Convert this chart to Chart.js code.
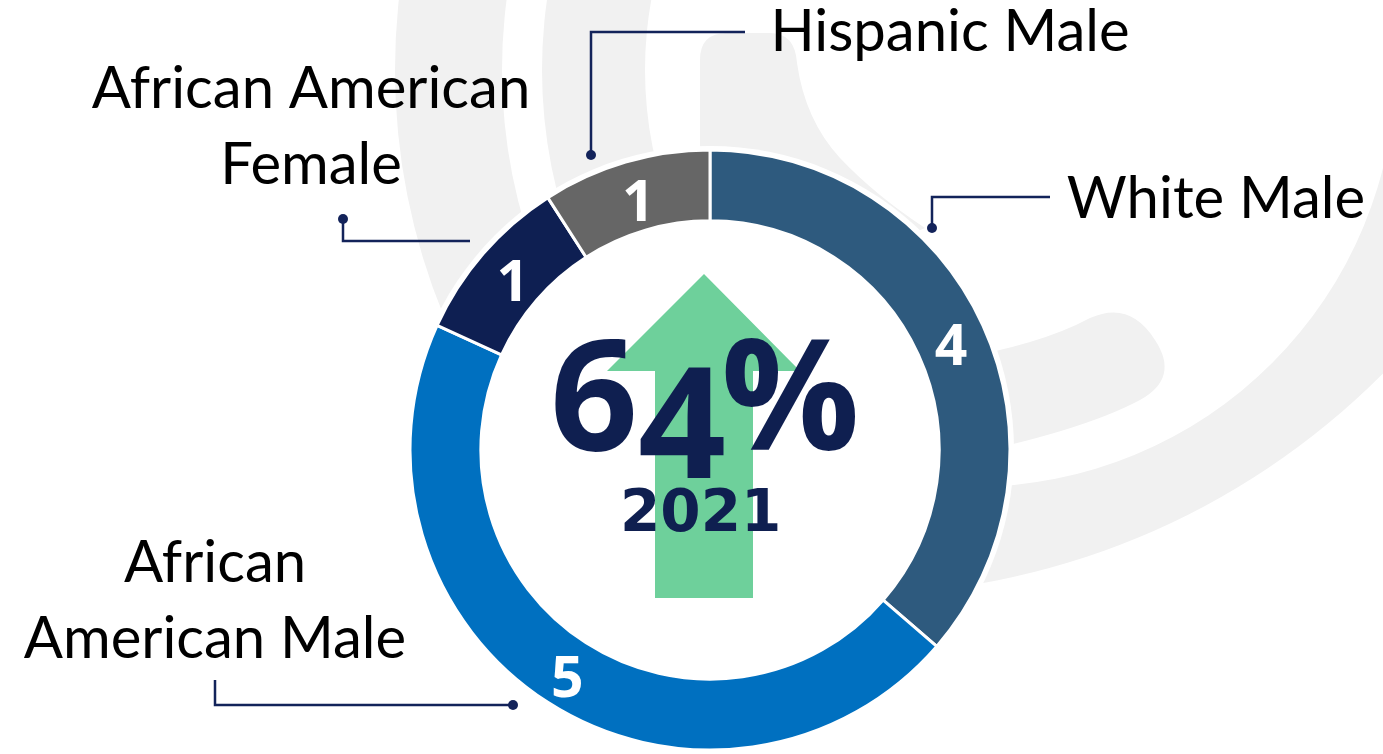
<!DOCTYPE html>
<html lang="en">
<head>
<meta charset="UTF-8">
<title>2021 breakdown</title>
<script src="https://cdn.jsdelivr.net/npm/chart.js"></script>
<style>
  html, body { margin: 0; padding: 0; background: #fff; }
</style>
</head>
<body>
<canvas id="donut" width="1383" height="754"></canvas>
<script>
// data
const categories = ['White Male', 'African American Male', 'African American Female', 'Hispanic Male'];
const counts = [4, 5, 1, 1];
const labelLines = [['White Male'], ['African', 'American Male'], ['African American', 'Female'], ['Hispanic Male']];
const centerValue = '64%';
const centerYear = '2021';

const sliceColors = ['#2E5A7E', '#0070C0', '#0E1F52', '#666666'];
const navy = '#0F1F50';

// leader lines and label anchors, as offsets from the doughnut centre
const leaders = [
  { pts: [[222, -222], [222, -253], [340, -253]], dot: 0, text: [506, -232] },
  { pts: [[-197, 255], [-495, 255], [-495, 230]], dot: 0, text: [-495, 132] },
  { pts: [[-367, -231], [-367, -209], [-240, -209]], dot: 0, text: [-399, -342] },
  { pts: [[-119, -295], [-119, -418], [35, -418]], dot: 0, text: [240, -399] }
];

function drawWatermark(ctx) {
  ctx.save();
  ctx.fillStyle = '#F1F1F1';
  // two bands on the left
  ctx.save();
  ctx.beginPath();
  ctx.rect(0, 0, 700, 754);
  ctx.clip();
  [[538, 645], [395, 498]].forEach(([r1, r2]) => {
    ctx.beginPath();
    ctx.arc(1040, 70, r2, 0, Math.PI * 2);
    ctx.arc(1040, 70, r1, 0, Math.PI * 2, true);
    ctx.fill();
  });
  ctx.restore();
  // big crescent on the right
  ctx.save();
  ctx.beginPath();
  ctx.rect(900, 0, 483, 754);
  ctx.clip();
  ctx.beginPath();
  ctx.arc(850, -157, 752, 0, Math.PI * 2);
  ctx.arc(973, 64, 423, 0, Math.PI * 2);
  ctx.fill('evenodd');
  ctx.restore();
  // hook at the top
  ctx.beginPath();
  ctx.moveTo(700, 220);
  ctx.lineTo(700, 60);
  ctx.quadraticCurveTo(700, 33, 727, 33);
  ctx.lineTo(770, 33);
  ctx.quadraticCurveTo(795, 33, 797, 63);
  ctx.quadraticCurveTo(805, 120, 840, 158);
  ctx.quadraticCurveTo(875, 195, 925, 228);
  ctx.lineTo(760, 300);
  ctx.closePath();
  ctx.fill();
  // tongue on the right
  ctx.beginPath();
  ctx.moveTo(950, 360);
  ctx.quadraticCurveTo(1040, 345, 1090, 318);
  ctx.quadraticCurveTo(1130, 300, 1155, 340);
  ctx.quadraticCurveTo(1180, 378, 1140, 400);
  ctx.quadraticCurveTo(1080, 432, 950, 458);
  ctx.closePath();
  ctx.fill();
  ctx.restore();
}

function drawInk(ctx, text, left, bottom) {
  const m = ctx.measureText(text);
  ctx.fillText(text, left + m.actualBoundingBoxLeft, bottom - m.actualBoundingBoxDescent);
}

const decorPlugin = {
  id: 'decor',
  beforeDatasetsDraw(chart) {
    const ctx = chart.ctx;
    const arc = chart.getDatasetMeta(0).data[0];
    drawWatermark(ctx);
    ctx.save();
    ctx.fillStyle = '#ffffff';
    ctx.beginPath();
    ctx.arc(arc.x, arc.y, arc.outerRadius + 4, 0, Math.PI * 2);
    ctx.fill();
    ctx.restore();
  },
  afterDatasetsDraw(chart) {
    const ctx = chart.ctx;
    const meta = chart.getDatasetMeta(0);
    const cx = meta.data[0].x, cy = meta.data[0].y;
    ctx.save();

    // green arrow
    ctx.fillStyle = '#6ED09B';
    ctx.beginPath();
    ctx.moveTo(cx - 6, cy - 176);
    ctx.lineTo(cx + 90, cy - 79);
    ctx.lineTo(cx + 43, cy - 79);
    ctx.lineTo(cx + 43, cy + 148);
    ctx.lineTo(cx - 55, cy + 148);
    ctx.lineTo(cx - 55, cy - 79);
    ctx.lineTo(cx - 103, cy - 79);
    ctx.closePath();
    ctx.fill();

    // centre figure
    ctx.fillStyle = navy;
    ctx.textAlign = 'left';
    ctx.textBaseline = 'alphabetic';
    ctx.font = 'bold 154px "Open Sans"';
    const chars = centerValue.split('');
    drawInk(ctx, chars[0], cx - 155, cy + 2);
    drawInk(ctx, chars[1], cx - 70, cy + 28);
    drawInk(ctx, chars[2], cx + 15, cy + 1);
    ctx.font = 'bold 58px "DejaVu Sans"';
    const yw = ctx.measureText(centerYear);
    drawInk(ctx, centerYear, cx - 9 - (yw.actualBoundingBoxRight + yw.actualBoundingBoxLeft) / 2, cy + 82);

    // values on the slices
    ctx.fillStyle = '#ffffff';
    ctx.font = 'bold 57px "Open Sans"';
    meta.data.forEach((el, i) => {
      const p = el.tooltipPosition();
      const t = String(counts[i]);
      const m = ctx.measureText(t);
      const w = m.actualBoundingBoxRight + m.actualBoundingBoxLeft;
      const h = m.actualBoundingBoxAscent + m.actualBoundingBoxDescent;
      drawInk(ctx, t, p.x - w / 2, p.y + h / 2 + 4);
    });

    // leader lines and category names
    ctx.strokeStyle = '#13235A';
    ctx.lineWidth = 2.5;
    leaders.forEach((ld, i) => {
      ctx.beginPath();
      ld.pts.forEach(([dx, dy], k) => {
        if (k === 0) ctx.moveTo(cx + dx, cy + dy); else ctx.lineTo(cx + dx, cy + dy);
      });
      ctx.stroke();
      const d = ld.pts[ld.dot];
      ctx.fillStyle = '#13235A';
      ctx.beginPath();
      ctx.arc(cx + d[0], cy + d[1], 5, 0, Math.PI * 2);
      ctx.fill();

      ctx.fillStyle = '#000000';
      ctx.font = '58px Lato';
      ctx.textAlign = 'center';
      labelLines[i].forEach((line, k) => {
        ctx.fillText(line, cx + ld.text[0], cy + ld.text[1] + k * 76);
      });
      ctx.textAlign = 'left';
    });
    ctx.restore();
  }
};

new Chart(document.getElementById('donut'), {
  type: 'doughnut',
  data: {
    labels: categories,
    datasets: [{
      data: counts,
      backgroundColor: sliceColors,
      borderColor: '#ffffff',
      borderWidth: 3,
      hoverOffset: 0
    }]
  },
  options: {
    responsive: false,
    animation: false,
    events: [],
    radius: 300,
    cutout: 228,
    rotation: 0,
    layout: { padding: { left: 410, right: 373, top: 150, bottom: 4 } },
    plugins: {
      legend: { display: false },
      tooltip: { enabled: false }
    }
  },
  plugins: [decorPlugin]
});
</script>
</body>
</html>
